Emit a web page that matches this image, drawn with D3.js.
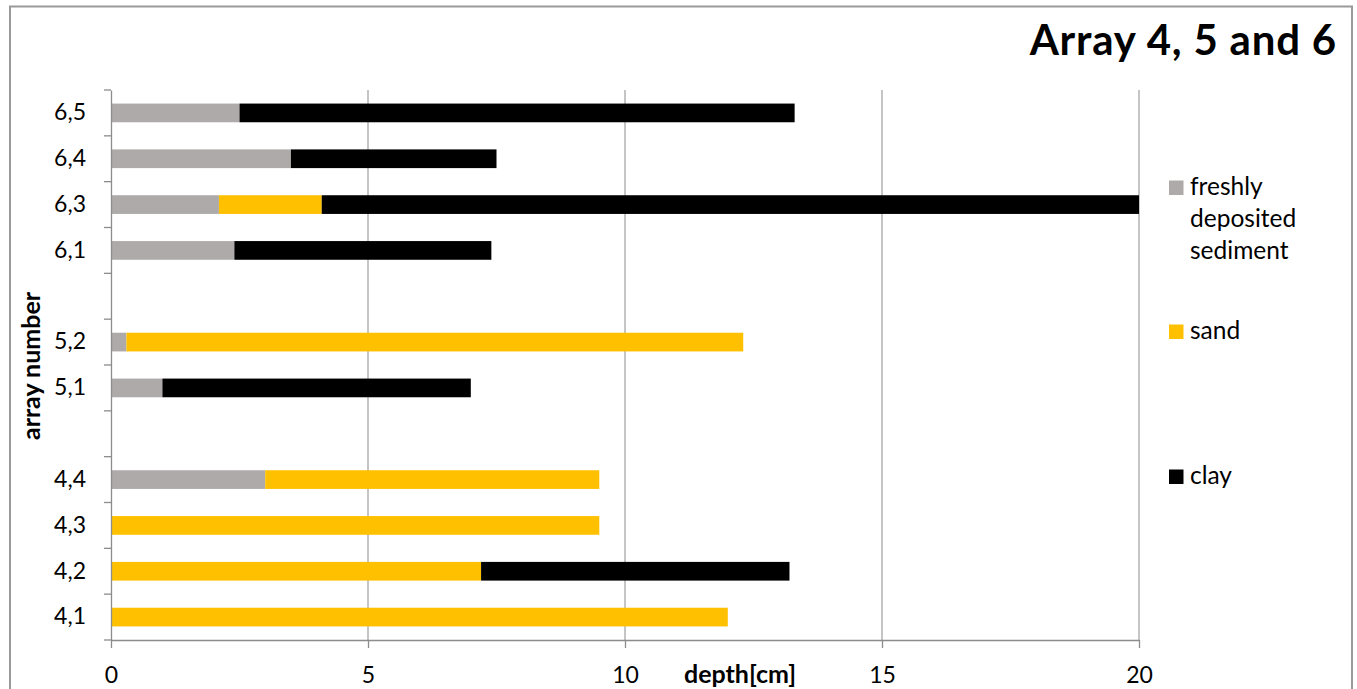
<!DOCTYPE html>
<html>
<head>
<meta charset="utf-8">
<script src="https://cdn.jsdelivr.net/npm/d3@7"></script>
<style>
  html, body { margin: 0; padding: 0; background: #fff; }
  svg { display: block; }
  text { font-family: Lato, "Open Sans", sans-serif; fill: #000; }
</style>
</head>
<body>
<svg id="chart" width="1357" height="689"></svg>
<script>
// Sample labels from bottom to top; blank entries separate the arrays
const categories = ["4,1", "4,2", "4,3", "4,4", "", "5,1", "5,2", "", "6,1", "6,3", "6,4", "6,5"];
// Layer thickness in cm for each sample
const freshSediment = [0, 0, 0, 3.0, 0, 1.0, 0.3, 0, 2.4, 2.1, 3.5, 2.5];
const sand          = [12.0, 7.2, 9.5, 6.5, 0, 0, 12.0, 0, 0, 2.0, 0, 0];
const clay          = [0, 6.0, 0, 0, 0, 6.0, 0, 0, 5.0, 15.9, 4.0, 10.8];
const seriesNames = ["freshly deposited sediment", "sand", "clay"];
const xTicks = [0, 5, 10, 15, 20];

const colors = { "freshly deposited sediment": "#aeaaaa", "sand": "#ffc000", "clay": "#000000" };

const svg = d3.select("#chart");
const plot = { left: 111, right: 1139, top: 90, bottom: 640 };

// outer chart frame
svg.append("rect")
  .attr("x", 10).attr("y", 6.5)
  .attr("width", 1342).attr("height", 700)
  .attr("fill", "#fff").attr("stroke", "#9a9a9a").attr("stroke-width", 2);

const rows = categories.map((c, i) => ({
  id: "r" + i,
  label: c,
  "freshly deposited sediment": freshSediment[i],
  "sand": sand[i],
  "clay": clay[i]
}));

const x = d3.scaleLinear().domain([0, 20]).range([plot.left, plot.right]);
const pad = 0.592;
const y = d3.scaleBand()
  .domain(rows.map(r => r.id))
  .range([plot.bottom, plot.top])
  .paddingInner(pad)
  .paddingOuter(pad / 2);

// vertical gridlines
svg.append("g")
  .selectAll("line")
  .data(xTicks.filter(t => t > 0))
  .join("line")
  .attr("x1", d => x(d)).attr("x2", d => x(d))
  .attr("y1", plot.top).attr("y2", plot.bottom)
  .attr("stroke", "#a6a6a6").attr("stroke-width", 1.3);

// stacked bars
const stacked = d3.stack().keys(seriesNames)(rows);
svg.append("g")
  .selectAll("g")
  .data(stacked)
  .join("g")
  .attr("fill", d => colors[d.key])
  .selectAll("rect")
  .data(d => d.filter(s => s[1] - s[0] > 0))
  .join("rect")
  .attr("x", d => x(d[0]))
  .attr("width", d => x(d[1]) - x(d[0]))
  .attr("y", d => y(d.data.id))
  .attr("height", y.bandwidth());

// y axis: labels centred on the bars, tick marks at band boundaries
const yAxis = svg.append("g")
  .attr("transform", `translate(${plot.left},0)`)
  .call(d3.axisLeft(y).tickSize(0).tickPadding(25).tickFormat(id => rows.find(r => r.id === id).label));
yAxis.select(".domain").attr("stroke", "#8c8c8c").attr("stroke-width", 1.3);
yAxis.selectAll("text").attr("font-size", 23).attr("font-family", "Lato, sans-serif");

const step = y.step();
const gap = (step - y.bandwidth()) / 2;
const boundaries = rows.map(r => y(r.id) + y.bandwidth() + gap)
  .concat([y(rows[rows.length - 1].id) - gap]);
svg.append("g")
  .selectAll("line")
  .data(boundaries)
  .join("line")
  .attr("x1", plot.left - 7).attr("x2", plot.left)
  .attr("y1", d => d).attr("y2", d => d)
  .attr("stroke", "#8c8c8c").attr("stroke-width", 1.3);

// x axis
const xAxis = svg.append("g")
  .attr("transform", `translate(0,${plot.bottom})`)
  .call(d3.axisBottom(x).tickValues(xTicks).tickSize(8).tickSizeOuter(0).tickFormat(d3.format("d")));
xAxis.select(".domain").attr("stroke", "#8c8c8c").attr("stroke-width", 1.3);
xAxis.selectAll(".tick line").attr("stroke", "#8c8c8c").attr("stroke-width", 1.3);
xAxis.selectAll("text")
  .attr("font-size", 23).attr("font-family", "Lato, sans-serif")
  .attr("y", 43).attr("dy", 0);

// axis titles
svg.append("text")
  .attr("x", 740).attr("y", 683)
  .attr("text-anchor", "middle")
  .attr("font-size", 25).attr("font-weight", "bold")
  .text("depth[cm]");

svg.append("text")
  .attr("transform", "translate(40,366) rotate(-90)")
  .attr("text-anchor", "middle")
  .attr("font-size", 25).attr("font-weight", "bold")
  .text("array number");

// chart title
svg.append("text")
  .attr("x", 1337).attr("y", 55)
  .attr("text-anchor", "end")
  .attr("font-size", 42).attr("font-weight", "bold")
  .attr("letter-spacing", "0.8px")
  .text("Array 4, 5 and 6");

// legend
const legendItems = [
  { key: "freshly deposited sediment", lines: ["freshly", "deposited", "sediment"], y: 195 },
  { key: "sand", lines: ["sand"], y: 339 },
  { key: "clay", lines: ["clay"], y: 484 }
];
const lg = svg.append("g").selectAll("g").data(legendItems).join("g");
lg.append("rect")
  .attr("x", 1169).attr("y", d => d.y - 14.5)
  .attr("width", 14.5).attr("height", 14.5)
  .attr("fill", d => colors[d.key]);
lg.append("text")
  .attr("x", 1190).attr("y", d => d.y)
  .attr("font-size", 24.5)
  .selectAll("tspan")
  .data(d => d.lines)
  .join("tspan")
  .attr("x", 1190)
  .attr("dy", (d, i) => i === 0 ? 0 : 32)
  .text(d => d);
</script>
</body>
</html>
